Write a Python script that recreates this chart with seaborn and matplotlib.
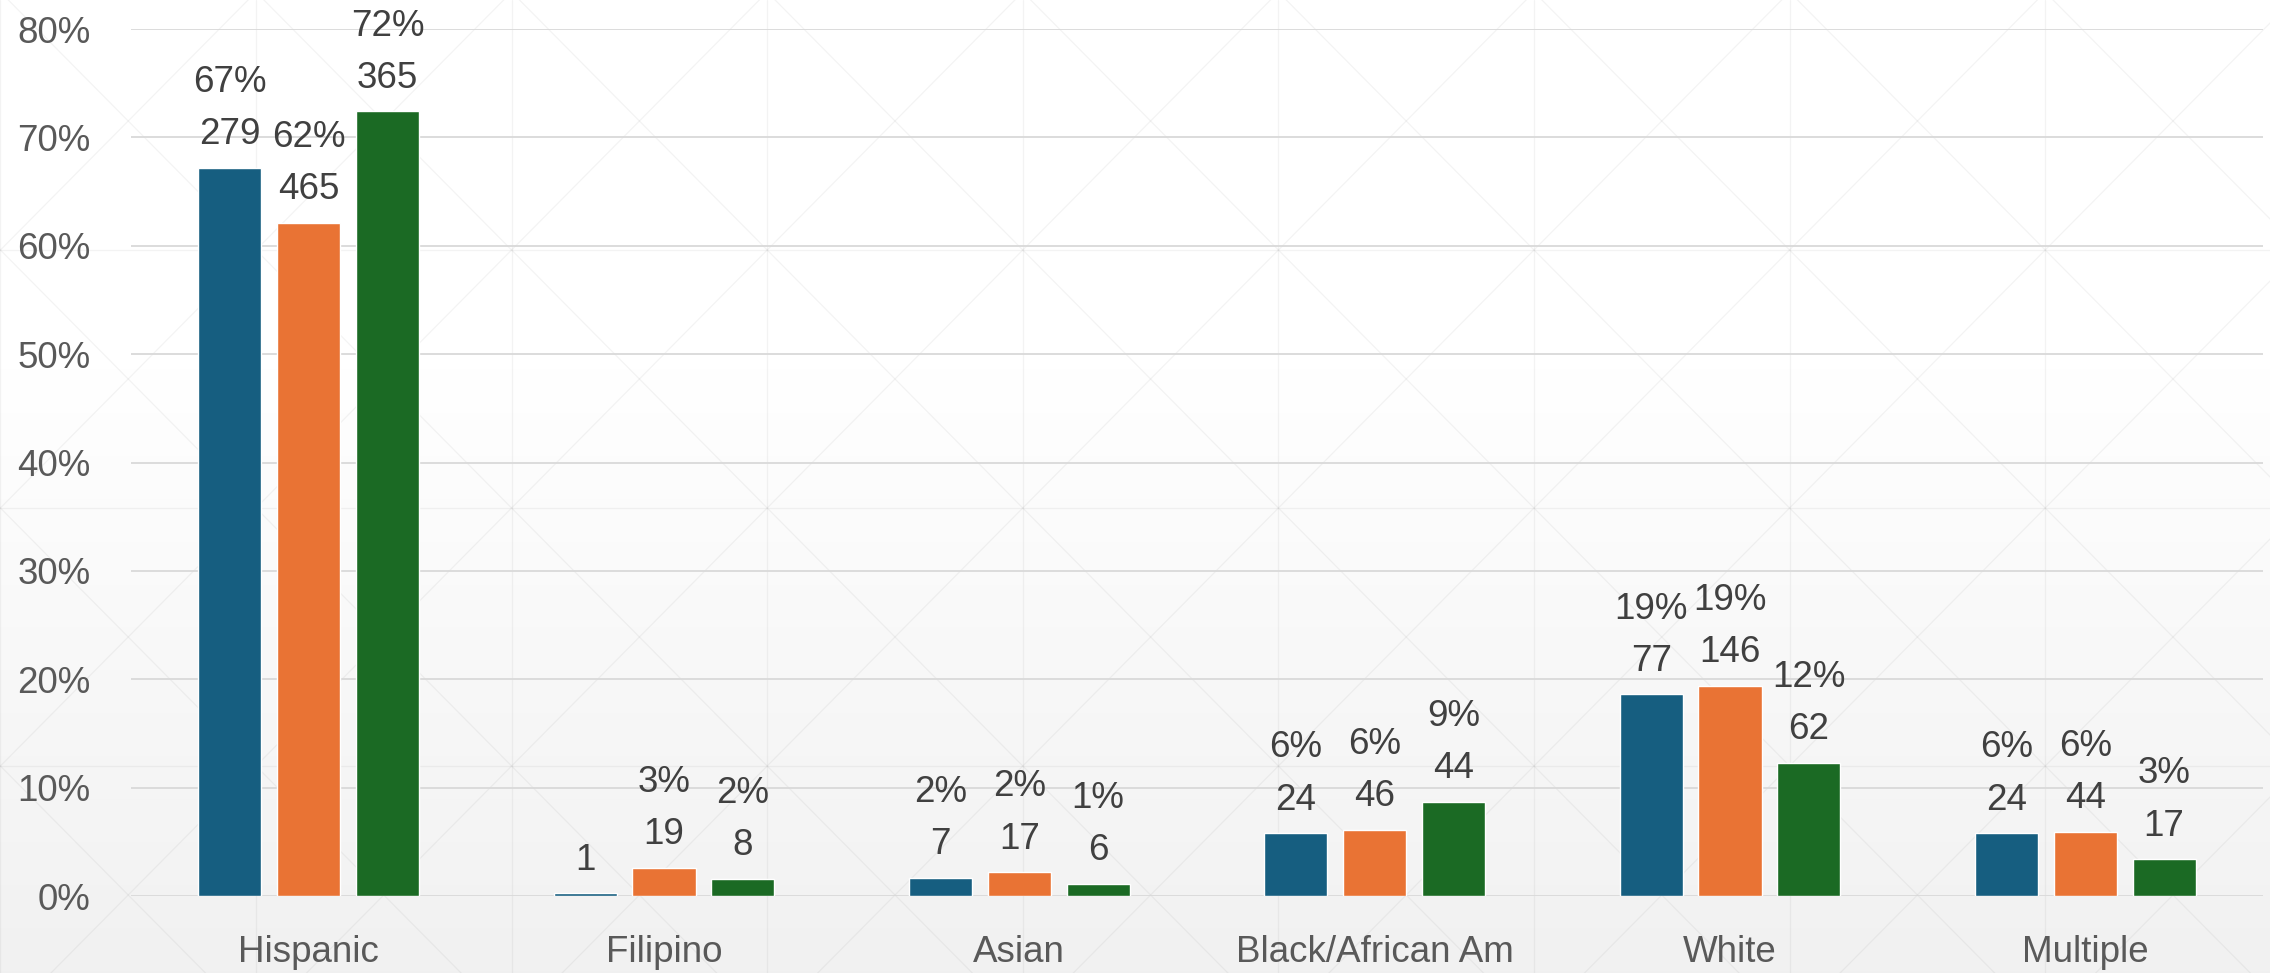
import numpy as np
import pandas as pd
import matplotlib
matplotlib.use('Agg')
import matplotlib.pyplot as plt
from matplotlib.ticker import FuncFormatter
import seaborn as sns

# --- data ---
categories = ['Hispanic', 'Filipino', 'Asian', 'Black/African Am', 'White', 'Multiple']
series_names = ['Group A', 'Group B', 'Group C']
pct_a = [0.672, 0.0024, 0.017, 0.058, 0.186, 0.058]
pct_b = [0.621, 0.026, 0.022, 0.061, 0.194, 0.059]
pct_c = [0.724, 0.016, 0.011, 0.087, 0.123, 0.034]
count_a = [279, 1, 7, 24, 77, 24]
count_b = [465, 19, 17, 46, 146, 44]
count_c = [365, 8, 6, 44, 62, 17]
colors = ['#165E80', '#E97334', '#1B6A24']

pcts = [pct_a, pct_b, pct_c]
counts = [count_a, count_b, count_c]

rows = []
for name, p, c in zip(series_names, pcts, counts):
    for cat, v, n in zip(categories, p, c):
        rows.append({'category': cat, 'series': name, 'value': v, 'count': n})
df = pd.DataFrame(rows)

sns.set_theme(style='white')
plt.rcParams['font.family'] = ['Liberation Sans', 'DejaVu Sans']

W, H = 2270, 973
fig = plt.figure(figsize=(W / 100, H / 100), dpi=100)
fig.patch.set_facecolor('white')

# --- background: soft gradient + faint lattice pattern ---
bg = fig.add_axes([0, 0, 1, 1], zorder=-10)
bg.set_xlim(0, W)
bg.set_ylim(H, 0)
bg.axis('off')
t = np.linspace(0, 1, 400)
shade = np.where(t < 0.38, 1.0, 1.0 - (t - 0.38) / 0.62 * 0.055)
grad = np.repeat(shade[:, None], 2, axis=1)
bg.imshow(np.dstack([grad, grad, grad]), extent=[0, W, H, 0], aspect='auto',
          vmin=0, vmax=1, interpolation='bilinear')
tw, th = 255.6, 258.0
x0, y0 = 0.4, -8.0
line_kw = dict(color='#808080', alpha=0.09, lw=0.9)
for k in range(-1, 11):
    bg.plot([x0 + k * tw] * 2, [0, H], **line_kw)
for m in range(0, 5):
    bg.plot([0, W], [y0 + m * th] * 2, **line_kw)
for k in range(-6, 14):
    xs = x0 + k * tw
    bg.plot([xs, xs + 5 * tw], [y0, y0 + 5 * th], **line_kw)
    bg.plot([xs, xs - 5 * tw], [y0, y0 + 5 * th], **line_kw)

# --- main chart ---
ax = fig.add_axes([131 / W, 77 / H, 2132 / W, 867 / H])
ax.set_facecolor('none')
sns.barplot(data=df, x='category', y='value', hue='series', palette=colors,
            width=0.665, gap=0.2, legend=False, saturation=1, ax=ax)

ax.set_ylim(0, 0.8)
ax.set_yticks(np.arange(0, 0.81, 0.1))
ax.yaxis.set_major_formatter(FuncFormatter(lambda v, _: f'{v:.0%}'))
ax.set_xlim(-0.5, 5.5)
ax.grid(axis='y', color='#d9d9d9', lw=1.3)
ax.grid(axis='x', visible=False)
ax.set_axisbelow(True)
for s in ax.spines.values():
    s.set_visible(False)
ax.tick_params(axis='y', length=0, pad=29, labelsize=26.5, labelcolor='#595959')
ax.tick_params(axis='x', length=0, pad=28, labelsize=26.5, labelcolor='#595959')
ax.set_xlabel('')
ax.set_ylabel('')

# two-line data labels: percentage above count
for cont, p, c in zip(ax.containers, pcts, counts):
    for bar, v, n in zip(cont, p, c):
        xc = bar.get_x() + bar.get_width() / 2
        top = bar.get_height()
        ax.annotate(str(n), (xc, top), xytext=(0, 17), textcoords='offset points',
                    ha='center', va='baseline', fontsize=26.5, color='#404040',
                    annotation_clip=False)
        if round(v * 100) > 0:
            ax.annotate(f'{v:.0%}', (xc, top), xytext=(0, 54.5), textcoords='offset points',
                        ha='center', va='baseline', fontsize=26.5, color='#404040',
                        annotation_clip=False)

fig.savefig('out.png', dpi=100)
